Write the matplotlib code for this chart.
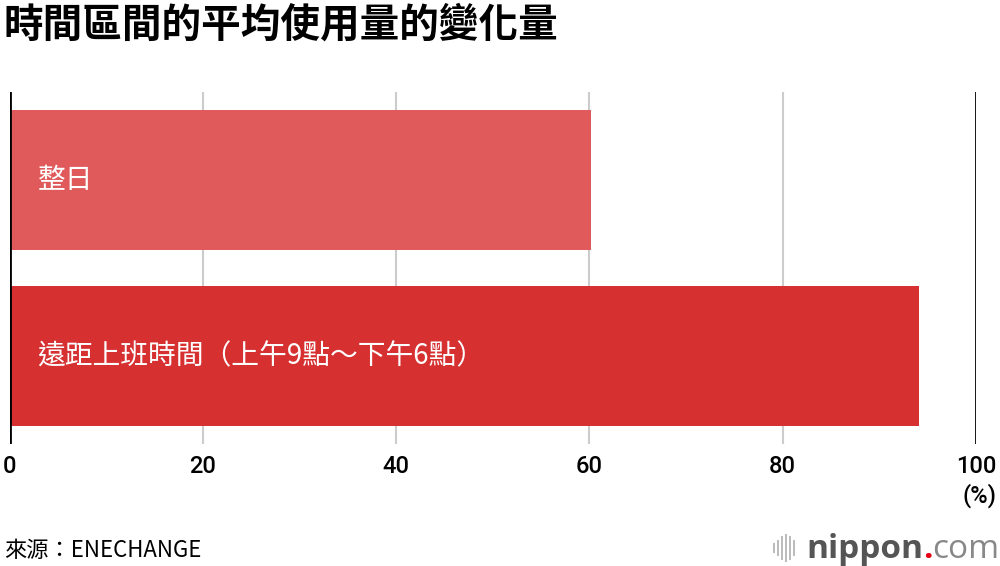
import matplotlib
matplotlib.use('Agg')
import matplotlib.pyplot as plt
from matplotlib.lines import Line2D

plt.rcParams['font.family'] = ['Noto Sans CJK TC', 'DejaVu Sans']

categories = ['整日', '遠距上班時間（上午9點～下午6點）']
values = [60.2, 94.1]
bar_colors = ['#e05a5c', '#d63031']
ticks = [0, 20, 40, 60, 80, 100]
title = '時間區間的平均使用量的變化量'
source = '來源：ENECHANGE'

fig = plt.figure(figsize=(10, 5.66), dpi=100)
ax = fig.add_axes([0.0095, 0.2155, 0.9665, 0.622])

y_pos = list(range(len(categories)))
ax.barh(y_pos, values, height=0.8, color=bar_colors, zorder=2)
for y, lbl in zip(y_pos, categories):
    ax.text(2.9, y, lbl, color='white', fontsize=20, fontweight='medium',
            va='center', ha='left', zorder=3)

ax.set_xlim(0, 100)
ax.set_ylim(1.5, -0.5)
for t in ticks[1:-1]:
    ax.axvline(t, color='#cccccc', lw=1.5, zorder=1)
ax.axvline(0, color='black', lw=2, zorder=4)
ax.axvline(100, color='black', lw=2, zorder=4)

for s in ax.spines.values():
    s.set_visible(False)
ax.set_yticks([])
ax.set_xticks(ticks)
ax.set_xticklabels([str(t) for t in ticks], fontsize=17, family='Roboto', fontweight='medium')
ax.tick_params(axis='x', length=0, pad=8)

fig.text(0.98, 0.124, '(%)', fontsize=17, family='Roboto', fontweight='medium',
         ha='center', va='center')
fig.text(0.004, 0.955, title, fontsize=28.5, fontweight='bold', ha='left', va='center')
fig.text(0.004, 0.027, source, fontsize=16, ha='left', va='center')

# nippon.com logo
bar_h = [0.014, 0.026, 0.038, 0.046, 0.038, 0.026]
for i, h in enumerate(bar_h):
    x = 0.774 + i * 0.004
    fig.add_artist(Line2D([x, x], [0.032 - h / 2, 0.032 + h / 2], color='#bbbbbb', lw=1.4))
logo = fig.text(0.806, 0.03, 'nippon', fontsize=24, fontweight='bold', color='#555555',
                family='Open Sans', ha='left', va='center')
fig.canvas.draw()
bb = logo.get_window_extent().transformed(fig.transFigure.inverted())
dot = fig.text(bb.x1, 0.03, '.', fontsize=24, fontweight='bold', color='#e60012',
               family='Open Sans', ha='left', va='center')
bb2 = dot.get_window_extent().transformed(fig.transFigure.inverted())
fig.text(bb2.x1, 0.03, 'com', fontsize=24, color='#888888', family='Open Sans',
         ha='left', va='center')

fig.savefig('out.png', dpi=100)
